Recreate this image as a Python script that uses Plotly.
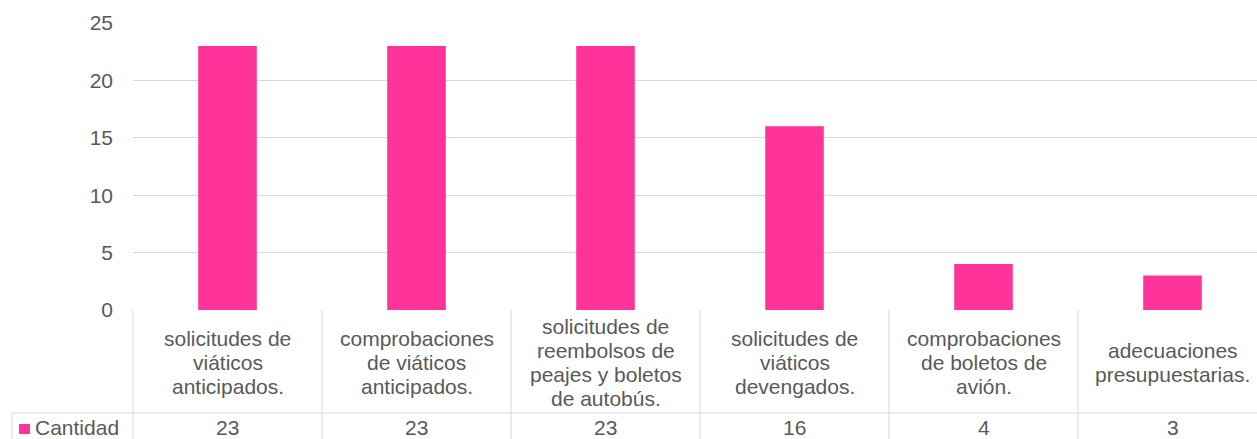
import plotly.graph_objects as go

categories = [
    "solicitudes de<br>viáticos<br>anticipados.",
    "comprobaciones<br>de viáticos<br>anticipados.",
    "solicitudes de<br>reembolsos de<br>peajes y boletos<br>de autobús.",
    "solicitudes de<br>viáticos<br>devengados.",
    "comprobaciones<br>de boletos de<br>avión.",
    "adecuaciones<br>presupuestarias.",
]
values = [23, 23, 23, 16, 4, 3]
series_name = "Cantidad"
y_ticks = [0, 5, 10, 15, 20, 25]

PINK = "#FF3399"
TEXT = "#595959"
GRID = "#D9D9D9"
FONT = "Arial, Liberation Sans, sans-serif"
FS = 21
LINE_H = 24

W, H = 1257, 439
L, T, B = 133, 23, 129
plot_w = W - L
plot_h = H - T - B
col_px = 189.0
x_max = -0.5 + plot_w / col_px

def py(px):
    return (H - B - px) / plot_h

def px_x(px):
    return (px - L) / plot_w

xs = list(range(len(categories)))

fig = go.Figure()
fig.add_trace(go.Bar(x=xs, y=values, width=0.31, marker=dict(color=PINK, line=dict(width=0)),
                     name=series_name, showlegend=False))

shapes = []
line = dict(color=GRID, width=1)
shapes.append(dict(type="line", xref="paper", yref="paper", x0=px_x(12), x1=1,
                   y0=py(413), y1=py(413), line=line))
shapes.append(dict(type="line", xref="paper", yref="paper", x0=0, x1=0,
                   y0=0, y1=py(445), line=line))
for i in range(1, len(categories)):
    shapes.append(dict(type="line", xref="x", yref="paper", x0=i - 0.5, x1=i - 0.5,
                       y0=0, y1=py(445), line=line))
shapes.append(dict(type="line", xref="paper", yref="paper", x0=px_x(12), x1=px_x(12),
                   y0=py(413), y1=py(445), line=line))
shapes.append(dict(type="rect", xref="paper", yref="paper", x0=px_x(19), x1=px_x(30),
                   y0=py(434), y1=py(424), fillcolor=PINK, line=dict(width=0)))

annotations = []
cell_mid = 362.0
for i, c in enumerate(categories):
    parts = c.split("<br>")
    n = len(parts)
    for k, part in enumerate(parts):
        ypx = cell_mid + (k - (n - 1) / 2) * LINE_H
        annotations.append(dict(x=i, y=py(ypx), xref="x", yref="paper", text=part,
                                showarrow=False, xanchor="center", yanchor="middle",
                                font=dict(family=FONT, size=FS, color=TEXT)))
    annotations.append(dict(x=i, y=py(427), xref="x", yref="paper", text=str(values[i]),
                            showarrow=False, xanchor="center", yanchor="middle",
                            font=dict(family=FONT, size=FS, color=TEXT)))
annotations.append(dict(x=px_x(33), y=py(427), xref="paper", yref="paper", text=series_name,
                        showarrow=False, xanchor="left", yanchor="middle",
                        font=dict(family=FONT, size=FS, color=TEXT)))

fig.update_layout(
    width=W, height=H,
    margin=dict(l=L, r=0, t=T, b=B, pad=0),
    paper_bgcolor="white", plot_bgcolor="white",
    font=dict(family=FONT, size=FS, color=TEXT),
    xaxis=dict(range=[-0.5, x_max], showticklabels=False, showgrid=False, zeroline=False,
               showline=False, ticks="", fixedrange=True),
    yaxis=dict(range=[0, 25], tickvals=y_ticks, showgrid=True, gridcolor=GRID, gridwidth=1,
               zeroline=False, showline=False, ticks="", ticklabelstandoff=19,
               tickfont=dict(family=FONT, size=FS, color=TEXT), fixedrange=True),
    shapes=shapes,
    annotations=annotations,
    showlegend=False,
)

fig.write_html("out.html", config={"displayModeBar": False},
               post_script="document.body.style.margin='0';document.body.style.overflow='hidden';")
